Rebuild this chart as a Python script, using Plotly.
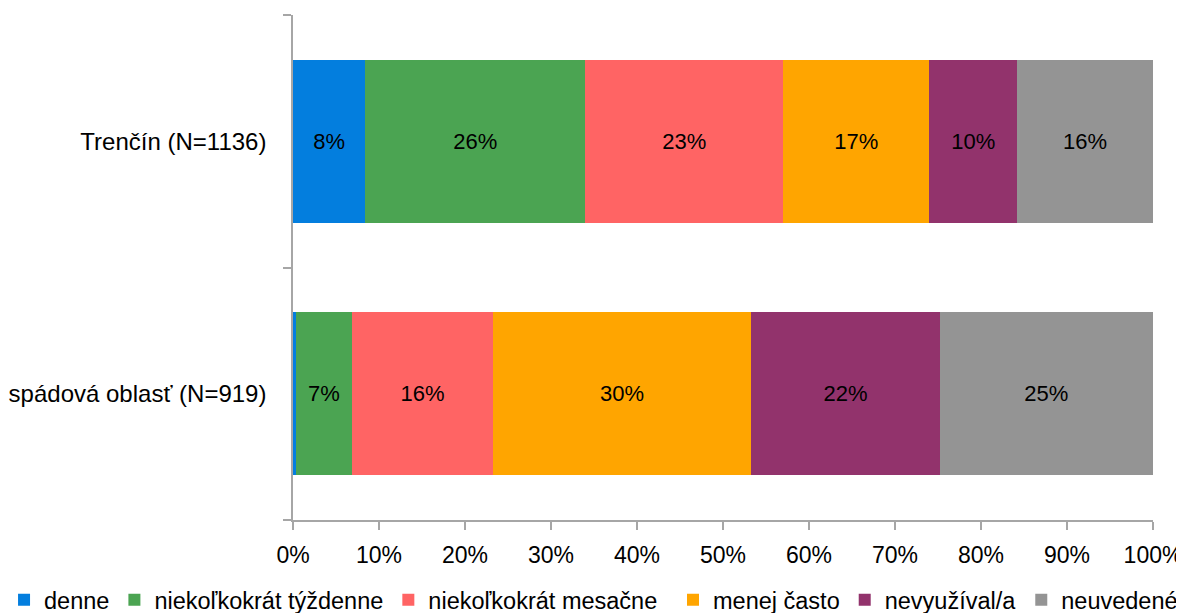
import plotly.graph_objects as go

categories = ["Trenčín (N=1136)", "spádová oblasť (N=919)"]
series_names = ["denne", "niekoľkokrát týždenne", "niekoľkokrát mesačne",
                "menej často", "nevyužíval/a", "neuvedené"]
denne = [8.4, 0.3]
tyzdenne = [25.6, 6.6]
mesacne = [23.0, 16.3]
menej_casto = [17.0, 30.1]
nevyuzival = [10.2, 21.9]
neuvedene = [15.8, 24.8]
colors = ["#037EDE", "#4BA452", "#FF6464", "#FFA500", "#92336C", "#949494"]
x_ticks = [i / 10 for i in range(11)]

series_values = [denne, tyzdenne, mesacne, menej_casto, nevyuzival, neuvedene]
FONT = "Liberation Sans, Arial, sans-serif"

fig = go.Figure()
for i, (name, vals, col) in enumerate(zip(series_names, series_values, colors)):
    fig.add_trace(go.Bar(
        y=categories, x=[v / 100 for v in vals], name=name, orientation="h",
        marker=dict(color=col, line=dict(width=0)),
        text=[f"{round(v)}%" if v >= 1 else "" for v in vals],
        textposition="inside", insidetextanchor="middle",
        textfont=dict(family=FONT, size=22, color="black"),
        textangle=0, constraintext="none",
        hoverinfo="skip",
        legend="legend" if i < 3 else "legend2",
    ))

leg_common = dict(orientation="h", xref="paper", yref="paper",
                  y=-0.1148, yanchor="top", bgcolor="rgba(0,0,0,0)",
                  font=dict(family=FONT, size=23.5, color="black"),
                  itemwidth=30, traceorder="normal", tracegroupgap=0)

fig.update_layout(
    barmode="stack", bargap=0.3545,
    width=1184, height=613,
    margin=dict(l=285, r=39, t=7, b=101, autoexpand=False),
    plot_bgcolor="white", paper_bgcolor="white",
    font=dict(family=FONT, size=23, color="black"),
    uniformtext=dict(mode=False),
    showlegend=True,
    legend=dict(x=-0.336, xanchor="left", **leg_common),
    legend2=dict(x=1.0349, xanchor="right", **leg_common),
)
fig.update_xaxes(range=[0, 1], tickvals=x_ticks, tickformat=".0%",
                 showgrid=False, zeroline=False, showline=True, automargin=False,
                 linecolor="#A6A6A6", linewidth=1.5,
                 ticks="outside", ticklen=8, tickcolor="#A6A6A6", tickwidth=1.5,
                 ticklabelstandoff=6,
                 tickfont=dict(family=FONT, size=23, color="black"))
fig.update_yaxes(categoryorder="array", categoryarray=categories[::-1],
                 showgrid=False, zeroline=False, showline=True, automargin=False,
                 linecolor="#A6A6A6", linewidth=1.5,
                 ticks="outside", ticklen=8, tickcolor="#A6A6A6", tickwidth=1.5,
                 tickson="boundaries", ticklabelstandoff=20,
                 tickfont=dict(family=FONT, size=24, color="black"))

fig.write_html("out.html")
